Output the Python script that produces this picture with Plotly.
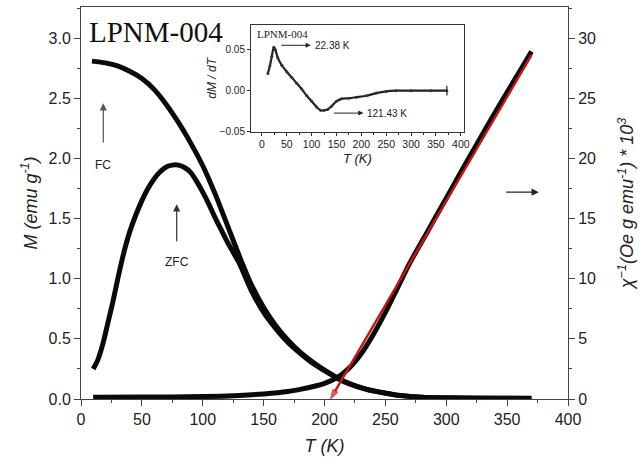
import plotly.graph_objects as go

# ---------------- data ----------------
T_fc = [9, 20, 30, 40, 50, 60, 70, 80, 90, 100, 110, 120, 130, 140, 150, 160, 170, 180, 190,
        200, 210, 220, 235, 250, 262, 280, 300, 340, 370]
M_fc = [2.81, 2.795, 2.77, 2.725, 2.665, 2.575, 2.45, 2.30, 2.13, 1.94, 1.71, 1.45, 1.19, 0.95, 0.76,
        0.61, 0.49, 0.39, 0.31, 0.24, 0.18, 0.13, 0.08, 0.05, 0.03, 0.015, 0.01, 0.007, 0.006]

T_zfc = [10, 14, 18, 22, 26, 30, 35, 40, 45, 50, 55, 60, 65, 70, 75, 80, 85, 90, 95, 100, 105, 110,
         115, 120, 125, 130, 140, 150, 160, 170, 180, 190, 200, 210, 220, 235, 250, 262, 280, 300, 340, 370]
M_zfc = [0.25, 0.33, 0.46, 0.63, 0.80, 0.99, 1.21, 1.39, 1.53, 1.65, 1.75, 1.83, 1.89, 1.93, 1.945,
         1.945, 1.925, 1.885, 1.81, 1.72, 1.62, 1.51, 1.41, 1.31, 1.22, 1.13, 0.90, 0.72, 0.585, 0.47,
         0.38, 0.30, 0.235, 0.175, 0.127, 0.078, 0.048, 0.029, 0.014, 0.009, 0.006, 0.005]

T_chi = [10, 50, 100, 130, 150, 170, 180, 190, 200, 210, 220, 230, 240, 250, 260, 270, 280, 290, 300,
         310, 320, 330, 340, 350, 360, 370]
chi_inv = [0.15, 0.16, 0.2, 0.3, 0.42, 0.62, 0.8, 1.02, 1.3, 1.75, 2.55, 3.75, 5.35, 7.2, 9.25, 11.3,
           13.1, 14.9, 16.7, 18.5, 20.3, 22.05, 23.8, 25.5, 27.2, 28.9]

T_fit = [370, 205]
chi_fit = [28.6, 0.0]

T_d = [12, 16, 20, 24, 27, 32, 40, 50, 60, 70, 80, 90, 100, 110, 118, 125, 132, 140, 150, 160,
       175, 190, 210, 230, 250, 270, 300, 340, 372]
dMdT = [0.021, 0.030, 0.042, 0.053, 0.050, 0.040, 0.031, 0.023, 0.016, 0.009, 0.002, -0.006, -0.013,
        -0.020, -0.024, -0.024, -0.023, -0.019, -0.013, -0.010, -0.0093, -0.008, -0.0062, -0.003,
        -0.0008, 0.0, 0.0, 0.0, 0.0]

x_ticks = [0, 50, 100, 150, 200, 250, 300, 350, 400]

# ---------------- figure ----------------
fig = go.Figure()
BLACK = "#0a0a0a"
curve = dict(color=BLACK, width=5, shape="spline", smoothing=0.8)
fig.add_trace(go.Scatter(x=T_fc, y=M_fc, mode="lines", line=curve, xaxis="x", yaxis="y", showlegend=False))
fig.add_trace(go.Scatter(x=T_zfc, y=M_zfc, mode="lines", line=curve, xaxis="x", yaxis="y", showlegend=False))
fig.add_trace(go.Scatter(x=T_chi, y=chi_inv, mode="lines", line=curve, xaxis="x", yaxis="y2", showlegend=False))
fig.add_trace(go.Scatter(x=T_fit, y=chi_fit, mode="lines+markers", line=dict(color="#c81414", width=2.4),
                         marker=dict(symbol="arrow", angleref="previous", size=[0, 10], color="#e01010"),
                         xaxis="x", yaxis="y2", showlegend=False))
fig.add_trace(go.Scatter(x=T_d, y=dMdT, mode="lines+markers",
                         line=dict(color="#222", width=2.2, shape="spline", smoothing=0.8),
                         marker=dict(size=3, color="#333"),
                         xaxis="x3", yaxis="y3", showlegend=False))
fig.add_trace(go.Scatter(x=T_d[-1:], y=dMdT[-1:], mode="markers",
                         marker=dict(symbol="line-ns", size=7, line=dict(width=1.2, color="#222")),
                         xaxis="x3", yaxis="y3", showlegend=False))

FONT = "Liberation Sans, Arial"
tickfont = dict(family=FONT, size=16, color="#222")
title_font = dict(family=FONT, size=18, color="#222")
axis_common = dict(showline=True, linecolor="#444", linewidth=1, ticks="outside", ticklen=6,
                   tickcolor="#444", showgrid=False, zeroline=False, tickfont=tickfont, automargin=False)

fig.update_layout(
    width=640, height=458,
    margin=dict(l=81, r=72, t=7, b=59),
    paper_bgcolor="white", plot_bgcolor="white",
    xaxis=dict(range=[0, 400], tickvals=x_ticks, mirror=True,
               minor=dict(ticks="outside", ticklen=3, dtick=25, tickcolor="#444"),
               title=dict(text="<i>T (K)</i>", font=title_font, standoff=12),
               **axis_common),
    yaxis=dict(range=[0, 3.26], dtick=0.5, tickformat=".1f",
               minor=dict(ticks="outside", ticklen=3, dtick=0.25, tickcolor="#444"),
               title=dict(text="<i>M (emu g<sup>-1</sup>)</i>", font=title_font, standoff=6),
               **axis_common),
    yaxis2=dict(range=[0, 32.6], dtick=5, overlaying="y", side="right", anchor="x",
                minor=dict(ticks="outside", ticklen=3, dtick=2.5, tickcolor="#444"),
                title=dict(text="<i>χ<sup>−1</sup>(Oe g emu<sup>-1</sup>) * 10<sup>3</sup></i>",
                           font=title_font, standoff=25),
                **axis_common),
    xaxis3=dict(domain=[0.349, 0.786], anchor="y3", range=[-22, 406], tickvals=x_ticks, mirror=True,
                showline=True, linecolor="#333", linewidth=1, ticks="outside", ticklen=3, tickcolor="#333",
                minor=dict(ticks="outside", ticklen=2, dtick=25, tickcolor="#333"),
                showgrid=False, zeroline=False,
                tickfont=dict(family=FONT, size=10.5, color="#222"),
                title=dict(text="<i>T (K)</i>", font=dict(family=FONT, size=13, color="#222"), standoff=4)),
    yaxis3=dict(domain=[0.682, 0.954], anchor="x3", range=[-0.05, 0.08], tickvals=[-0.05, 0.0, 0.05],
                tickformat=".2f", mirror=True,
                showline=True, linecolor="#333", linewidth=1, ticks="outside", ticklen=3, tickcolor="#333",
                showgrid=False, zeroline=False,
                tickfont=dict(family=FONT, size=10, color="#222"),
                title=dict(text="<i>dM / dT</i>", font=dict(family=FONT, size=12, color="#222"), standoff=0)),
)

ann_font = dict(family=FONT, size=12, color="#222")
small_font = dict(family=FONT, size=10, color="#222")
annotations = [
    dict(text="LPNM-004", xref="paper", yref="paper", x=0.012, y=0.936, xanchor="left", yanchor="middle",
         showarrow=False, font=dict(family="Liberation Serif, Times New Roman", size=29, color="#111")),
    # FC arrow
    dict(x=18.3, y=2.46, ax=18.3, ay=2.12, xref="x", yref="y", axref="x", ayref="y", text="",
         showarrow=True, arrowhead=2, arrowsize=1.2, arrowwidth=1.2, arrowcolor="#555"),
    dict(text="FC", x=18.3, y=1.95, xref="x", yref="y", showarrow=False, font=ann_font),
    # ZFC arrow
    dict(x=78.6, y=1.62, ax=78.6, ay=1.30, xref="x", yref="y", axref="x", ayref="y", text="",
         showarrow=True, arrowhead=2, arrowsize=1.2, arrowwidth=1.2, arrowcolor="#333"),
    dict(text="ZFC", x=78.6, y=1.14, xref="x", yref="y", showarrow=False, font=ann_font),
    # right arrow
    dict(x=376, y=1.72, ax=348, ay=1.72, xref="x", yref="y", axref="x", ayref="y", text="",
         showarrow=True, arrowhead=2, arrowsize=1.2, arrowwidth=1.2, arrowcolor="#222"),
    # inset
    dict(text="LPNM-004", xref="x3 domain", yref="y3 domain", x=0.02, y=0.92, xanchor="left",
         yanchor="middle", showarrow=False,
         font=dict(family="Liberation Serif, Times New Roman", size=11, color="#222")),
    dict(x=98, y=0.0553, ax=36, ay=0.0553, xref="x3", yref="y3", axref="x3", ayref="y3", text="",
         showarrow=True, arrowhead=2, arrowsize=1, arrowwidth=1, arrowcolor="#222"),
    dict(text="22.38 K", x=102, y=0.0553, xref="x3", yref="y3", xanchor="left", showarrow=False,
         font=small_font),
    dict(x=204, y=-0.0274, ax=142, ay=-0.0274, xref="x3", yref="y3", axref="x3", ayref="y3", text="",
         showarrow=True, arrowhead=2, arrowsize=1, arrowwidth=1, arrowcolor="#222"),
    dict(text="121.43 K", x=208, y=-0.0274, xref="x3", yref="y3", xanchor="left", showarrow=False,
         font=small_font),
]
fig.update_layout(annotations=annotations)

fig.write_html("out.html", config={"displayModeBar": False},
               post_script="document.body.style.margin='0px';")
